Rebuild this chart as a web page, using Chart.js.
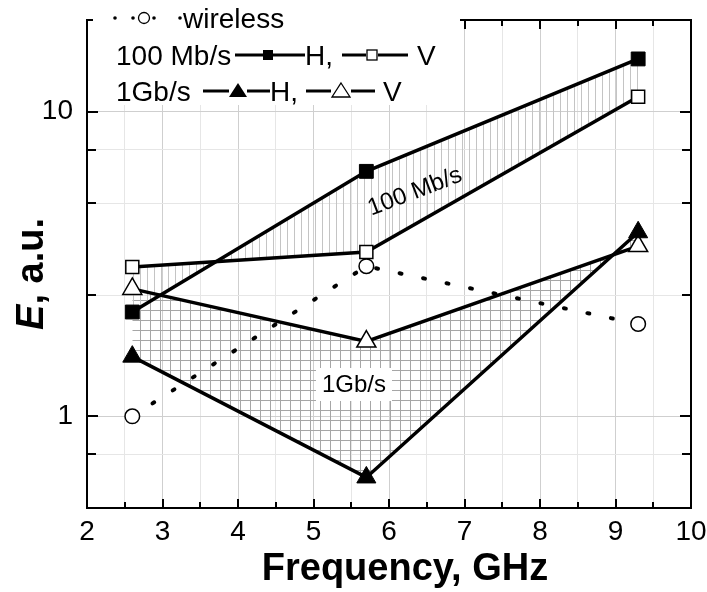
<!DOCTYPE html>
<html><head><meta charset="utf-8">
<script src="https://cdn.jsdelivr.net/npm/chart.js@4/dist/chart.umd.min.js"></script>
<style>html,body{margin:0;padding:0;background:#fff;}canvas{display:block;}</style>
</head><body>
<canvas id="c" width="707" height="592"></canvas>
<script>
// ---- data ----
const frequencies = [2.6, 5.7, 9.3];
const wireless = [1.0, 3.11, 2.01];
const mb100H = [2.2, 6.37, 14.9];
const mb100V = [3.09, 3.46, 11.2];
const gb1H = [1.57, 0.63, 4.02];
const gb1V = [2.62, 1.76, 3.62];
const xGridValues = [2, 2.5, 3, 3.5, 4, 4.5, 5, 5.5, 6, 6.5, 7, 7.5, 8, 8.5, 9, 9.5, 10];
const xLabelValues = [2, 3, 4, 5, 6, 7, 8, 9, 10];
const yGridValues = [0.5, 0.75, 1, 2.5, 5, 7.5, 10, 20];
const yLabelValues = [1, 10];

const FONT = '"Liberation Sans", Arial, sans-serif';
const canvas = document.getElementById('c');
const mainCtx = canvas.getContext('2d');

function makePattern(w, h, fn) {
  const c = document.createElement('canvas');
  c.width = w; c.height = h;
  fn(c.getContext('2d'));
  return mainCtx.createPattern(c, 'repeat');
}
const vHatch = makePattern(7, 7, g => { g.fillStyle = '#c4c4c4'; g.fillRect(0, 0, 1, 7); });
const xHatch = makePattern(10, 10, g => { g.fillStyle = '#a6a6a6'; g.fillRect(0, 0, 1, 10); g.fillRect(0, 0, 10, 1); });

const pts = arr => frequencies.map((f, i) => ({ x: f, y: arr[i] }));
const noPad = s => { s.paddingTop = 0; s.paddingBottom = 0; s.paddingLeft = 0; s.paddingRight = 0; };

const deco = {
  id: 'deco',
  beforeDraw(chart) {
    const ctx = chart.ctx;
    ctx.save(); ctx.fillStyle = '#fff'; ctx.fillRect(0, 0, chart.width, chart.height); ctx.restore();
  },
  afterDatasetsDraw(chart) {
    const ctx = chart.ctx;
    ctx.save();
    ctx.fillStyle = '#000';
    ctx.font = '24px ' + FONT;
    ctx.textAlign = 'center'; ctx.textBaseline = 'middle';
    ctx.save();
    ctx.translate(415, 192);
    ctx.rotate(-21 * Math.PI / 180);
    ctx.fillText('100 Mb/s', 0, 0);
    ctx.restore();
    ctx.fillStyle = '#fff';
    ctx.fillRect(316, 368, 76, 33);
    ctx.fillStyle = '#000';
    ctx.fillText('1Gb/s', 354, 385);
    ctx.restore();
  },
  afterDraw(chart) {
    const { ctx, chartArea: a, scales: { x, y } } = chart;
    ctx.save();
    ctx.strokeStyle = '#000'; ctx.lineWidth = 2;
    ctx.beginPath();
    xGridValues.forEach(v => {
      const px = Math.round(x.getPixelForValue(v));
      const len = Number.isInteger(v) ? 9 : 6;
      ctx.moveTo(px, a.bottom); ctx.lineTo(px, a.bottom - len);
      ctx.moveTo(px, a.top); ctx.lineTo(px, a.top + len);
    });
    yGridValues.forEach(v => {
      const py = Math.round(y.getPixelForValue(v));
      const len = yLabelValues.includes(v) ? 11 : 9;
      ctx.moveTo(a.left, py); ctx.lineTo(a.left + len, py);
      ctx.moveTo(a.right, py); ctx.lineTo(a.right - len, py);
    });
    ctx.stroke();
    ctx.strokeRect(a.left, a.top, a.right - a.left, a.bottom - a.top);

    // legend
    ctx.fillStyle = '#fff';
    ctx.fillRect(93, 0, 367, 105);
    ctx.fillStyle = '#000';
    ctx.font = '28px ' + FONT;
    ctx.textAlign = 'left'; ctx.textBaseline = 'alphabetic';
    const line = (x1, x2, yy) => { ctx.beginPath(); ctx.lineWidth = 3; ctx.moveTo(x1, yy); ctx.lineTo(x2, yy); ctx.stroke(); };
    const dot = (cx, cy) => { ctx.beginPath(); ctx.arc(cx, cy, 1.8, 0, Math.PI * 2); ctx.fill(); };
    const r1 = 18;
    dot(115, r1); dot(133, r1); dot(154, r1); dot(180, r1);
    ctx.beginPath(); ctx.lineWidth = 1.3; ctx.arc(144, r1, 5.5, 0, Math.PI * 2); ctx.fillStyle = '#fff'; ctx.fill(); ctx.stroke();
    ctx.fillStyle = '#000';
    ctx.fillText('wireless', 183, 28);
    const r2 = 55;
    ctx.fillText('100 Mb/s', 116, 65);
    line(235, 263, r2); ctx.fillRect(263, r2 - 5, 10, 10); line(273, 305, r2);
    ctx.fillText('H,', 305, 65);
    line(342, 366, r2);
    ctx.lineWidth = 1.3; ctx.fillStyle = '#fff'; ctx.fillRect(367, r2 - 5, 10, 10); ctx.strokeRect(367, r2 - 5, 10, 10);
    ctx.fillStyle = '#000';
    line(378, 408, r2);
    ctx.fillText('V', 417, 65);
    const r3 = 91;
    ctx.fillText('1Gb/s', 116, 101);
    line(203, 229, r3);
    ctx.beginPath(); ctx.moveTo(238, r3 - 8); ctx.lineTo(247, r3 + 6); ctx.lineTo(229, r3 + 6); ctx.closePath(); ctx.fill();
    line(247, 270, r3);
    ctx.fillText('H,', 270, 101);
    line(306, 331, r3);
    ctx.beginPath(); ctx.moveTo(341, r3 - 8); ctx.lineTo(350, r3 + 6); ctx.lineTo(332, r3 + 6); ctx.closePath();
    ctx.fillStyle = '#fff'; ctx.fill(); ctx.lineWidth = 1.3; ctx.stroke();
    ctx.fillStyle = '#000';
    line(351, 375, r3);
    ctx.fillText('V', 383, 101);

    // axis titles
    ctx.font = 'bold 38px ' + FONT;
    ctx.textAlign = 'center';
    ctx.fillText('Frequency, GHz', 405, 580);
    ctx.save();
    ctx.translate(43, 274);
    ctx.rotate(-Math.PI / 2);
    ctx.textAlign = 'left';
    ctx.font = 'italic bold 38px ' + FONT;
    const eW = ctx.measureText('E').width;
    ctx.font = 'bold 38px ' + FONT;
    const restW = ctx.measureText(', a.u.').width;
    const start = -(eW + restW) / 2;
    ctx.font = 'italic bold 38px ' + FONT;
    ctx.fillText('E', start, 0);
    ctx.font = 'bold 38px ' + FONT;
    ctx.fillText(', a.u.', start + eW, 0);
    ctx.restore();
    ctx.restore();
  }
};

const solid = { borderColor: '#000', borderWidth: 3.5, pointBorderColor: '#000', tension: 0 };

new Chart(canvas, {
  type: 'line',
  data: {
    datasets: [
      Object.assign({}, solid, { label: '100 Mb/s H', data: pts(mb100H), pointStyle: 'rect', pointRadius: 9.8,
        pointBackgroundColor: '#000', pointBorderWidth: 1, fill: 1, backgroundColor: vHatch }),
      Object.assign({}, solid, { label: '100 Mb/s V', data: pts(mb100V), pointStyle: 'rect', pointRadius: 9.2,
        pointBackgroundColor: '#fff', pointBorderWidth: 1.5, fill: false }),
      Object.assign({}, solid, { label: '1Gb/s H', data: pts(gb1H), pointStyle: 'triangle', pointRadius: 11,
        pointBackgroundColor: '#000', pointBorderWidth: 1, fill: 3, backgroundColor: xHatch }),
      Object.assign({}, solid, { label: '1Gb/s V', data: pts(gb1V), pointStyle: 'triangle', pointRadius: 11,
        pointBackgroundColor: '#fff', pointBorderWidth: 1.5, fill: false }),
      { label: 'wireless', data: pts(wireless), borderColor: '#000', borderWidth: 4, borderDash: [2, 22],
        borderCapStyle: 'round', pointStyle: 'circle', pointRadius: 7.3, pointBackgroundColor: '#fff',
        pointBorderColor: '#000', pointBorderWidth: 1.5, fill: false }
    ]
  },
  options: {
    responsive: false, animation: false, devicePixelRatio: 1,
    layout: { padding: { left: 0, right: 16, top: 20, bottom: 0 } },
    plugins: { legend: { display: false }, tooltip: { enabled: false }, filler: { drawTime: 'beforeDatasetsDraw' } },
    scales: {
      x: {
        type: 'linear', min: 2, max: 10,
        afterBuildTicks: s => { s.ticks = xGridValues.map(v => ({ value: v })); },
        afterFit: s => { s.height = 84; noPad(s); },
        grid: { drawTicks: false, lineWidth: 1, color: c => (c.tick && Number.isInteger(c.tick.value)) ? '#cfcfcf' : '#e6e6e6' },
        border: { display: false },
        ticks: { padding: 7, autoSkip: false, maxRotation: 0, color: '#000', font: { family: FONT, size: 28 },
          callback: v => xLabelValues.includes(v) ? String(v) : '' }
      },
      y: {
        type: 'logarithmic', min: 0.5, max: 20,
        afterBuildTicks: s => { s.ticks = yGridValues.map(v => ({ value: v })); },
        afterFit: s => { s.width = 87; noPad(s); },
        grid: { drawTicks: false, lineWidth: 1, color: c => (c.tick && yLabelValues.includes(c.tick.value)) ? '#cfcfcf' : '#e6e6e6' },
        border: { display: false },
        ticks: { padding: 14, autoSkip: false, color: '#000', font: { family: FONT, size: 28 },
          callback: v => yLabelValues.includes(v) ? String(v) : '' }
      }
    }
  },
  plugins: [deco]
});
</script>
</body></html>
